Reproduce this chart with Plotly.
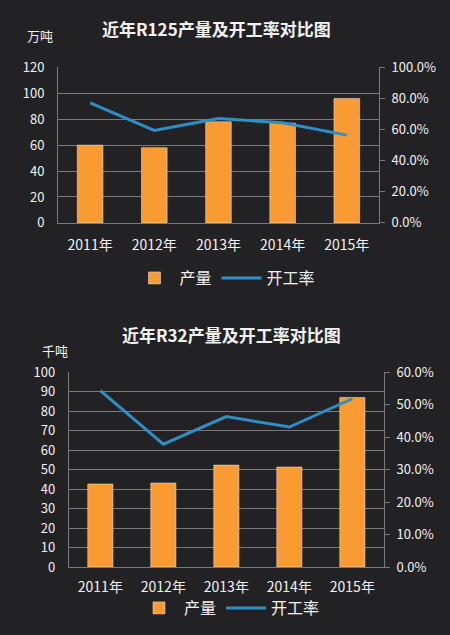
"""
R125 / R32 production vs utilisation rate, two stacked combo charts
"""
import plotly.graph_objects as go

YEARS = ['2011年', '2012年', '2013年', '2014年', '2015年']

# R125: output (10k tons) and utilisation rate
R125_OUTPUT = [60, 58, 78, 77, 96]
R125_RATE = [0.771, 0.594, 0.671, 0.643, 0.564]

# R32: output (k tons) and utilisation rate
R32_OUTPUT = [42.6, 43.1, 52.3, 51.3, 87.0]
R32_RATE = [0.543, 0.378, 0.463, 0.431, 0.518]

BG = '#222224'
ORANGE = '#f99b32'
BLUE = '#2e8fc7'
GRID = '#7a7a7a'
TXT = '#f2f2f2'
FONT = 'Noto Sans CJK SC'

fig = go.Figure()

# chart 1
fig.add_trace(go.Bar(x=YEARS, y=R125_OUTPUT, name='产量', marker_color=ORANGE,
                     width=0.4, xaxis='x', yaxis='y', legend='legend'))
fig.add_trace(go.Scatter(x=YEARS, y=R125_RATE, name='开工率', mode='lines',
                         line=dict(color=BLUE, width=3), xaxis='x', yaxis='y2',
                         legend='legend'))

# chart 2
fig.add_trace(go.Bar(x=YEARS, y=R32_OUTPUT, name='产量', marker_color=ORANGE,
                     width=0.4, xaxis='x2', yaxis='y3', legend='legend2'))
fig.add_trace(go.Scatter(x=YEARS, y=R32_RATE, name='开工率', mode='lines',
                         line=dict(color=BLUE, width=3), xaxis='x2', yaxis='y4',
                         legend='legend2'))

tick_font = dict(family=FONT, size=13, color=TXT)
x_common = dict(showgrid=False, showline=True, linecolor=GRID, linewidth=1,
                ticks='', automargin=False,
                tickfont=dict(family=FONT, size=14, color=TXT))
yl_common = dict(showgrid=True, gridcolor=GRID, gridwidth=1, zeroline=False,
                 showline=True, linecolor=GRID, ticks='', ticklabelstandoff=10,
                 automargin=False, tickfont=tick_font)
yr_common = dict(showgrid=False, zeroline=False, side='right', showline=True,
                 linecolor=GRID, ticks='outside', ticklen=5, tickcolor=GRID,
                 ticklabelstandoff=4, automargin=False,
                 tickformat='.1%', tickfont=tick_font)

leg_font = dict(family=FONT, size=16, color=TXT)


def note(text, x, y, size, bold=False):
    if bold:
        text = f'<b>{text}</b>'
    return dict(text=text, x=x / 450, y=1 - y / 635, xref='paper', yref='paper',
                xanchor='center', yanchor='middle', showarrow=False,
                font=dict(family=FONT, size=size, color=TXT))


fig.update_layout(
    width=450, height=635,
    margin=dict(l=0, r=0, t=0, b=0, autoexpand=False),
    paper_bgcolor=BG, plot_bgcolor=BG,
    font=dict(family=FONT, color=TXT),
    showlegend=True,
    xaxis=dict(domain=[0.129, 0.842], anchor='y', ticklabelstandoff=9, **x_common),
    yaxis=dict(domain=[0.649, 0.894], range=[0, 120], dtick=20, anchor='x', **yl_common),
    yaxis2=dict(overlaying='y', anchor='x', range=[0, 1], dtick=0.2, **yr_common),
    xaxis2=dict(domain=[0.153, 0.853], anchor='y3', ticklabelstandoff=7, **x_common),
    yaxis3=dict(domain=[0.107, 0.414], range=[0, 100], dtick=10, anchor='x2', **yl_common),
    yaxis4=dict(overlaying='y3', anchor='x2', range=[0, 0.6], dtick=0.1, **yr_common),
    legend=dict(orientation='h', x=0.5, xanchor='center', y=1 - 278 / 635, yanchor='middle',
                bgcolor='rgba(0,0,0,0)', font=leg_font, itemwidth=40),
    legend2=dict(orientation='h', x=0.51, xanchor='center', y=1 - 608 / 635, yanchor='middle',
                 bgcolor='rgba(0,0,0,0)', font=leg_font, itemwidth=40),
    annotations=[
        note('近年R125产量及开工率对比图', 216, 29, 17, bold=True),
        note('万吨', 40, 35, 13),
        note('近年R32产量及开工率对比图', 231, 335, 17, bold=True),
        note('千吨', 55, 350, 13),
    ],
)

# drop the default body margin so the 450x635 figure fills the window exactly
fig.write_html("out.html",
               config={'displayModeBar': False},
               post_script="document.body.style.margin='0';"
                           "document.body.style.overflow='hidden';"
                           "document.body.style.background='" + BG + "';")
